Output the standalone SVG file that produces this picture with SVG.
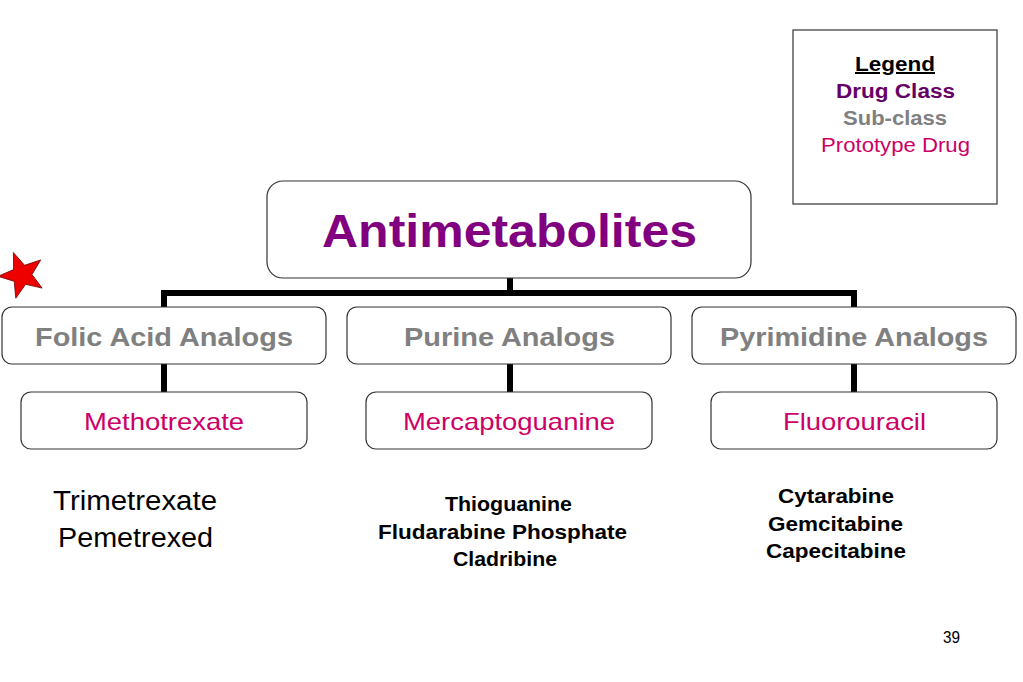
<svg xmlns="http://www.w3.org/2000/svg" width="1023" height="682" viewBox="0 0 1023 682">
<style>
.box{fill:#fff;stroke:#333;stroke-width:1.2}
.conn{stroke:#000;stroke-width:6;fill:none}
.t{font-family:"Liberation Sans",Arial,sans-serif;text-anchor:middle}
.cls{font-size:26px;font-weight:bold;fill:#808080}
.proto{font-size:24px;fill:#CC0066}
.list{font-size:20px;font-weight:bold;fill:#000}
</style>
<rect width="1023" height="682" fill="#fff"/>
<g id="connectors">
<path class="conn" d="M510 278V295M164 307V293H854V307"/>
<path class="conn" d="M164 364V392M510 364V392M854 364V392"/>
</g>
<g id="legend">
<rect x="793" y="30" width="204" height="174" fill="#fff" stroke="#333" stroke-width="1.2"/>
<text class="t" x="895" y="71" font-size="20" font-weight="bold" text-decoration="underline" textLength="80" lengthAdjust="spacingAndGlyphs">Legend</text>
<text class="t" x="895.5" y="98" font-size="20" font-weight="bold" fill="#660066" textLength="119" lengthAdjust="spacingAndGlyphs">Drug Class</text>
<text class="t" x="895" y="125" font-size="20" font-weight="bold" fill="#808080" textLength="104" lengthAdjust="spacingAndGlyphs">Sub-class</text>
<text class="t" x="895.5" y="152" font-size="20" fill="#CC0066" textLength="149" lengthAdjust="spacingAndGlyphs">Prototype Drug</text>
</g>
<g id="star">
<polygon transform="translate(22,275)" fill="#EE0000" stroke="#600" stroke-width="0.8" points="-8.6,-22.4 2.6,-9.7 18.7,-15.1 10,-0.5 20.1,13.1 3.6,9.3 -6.2,23.2 -7.8,6.3 -24,1.3 -8.4,-5.4"/>
</g>
<g id="antimetabolites">
<rect class="box" x="267" y="181" width="484" height="97" rx="16"/>
<text class="t" x="509.5" y="247" font-size="46" font-weight="bold" fill="#800080" textLength="375" lengthAdjust="spacingAndGlyphs">Antimetabolites</text>
</g>
<g id="folic">
<rect class="box" x="2" y="307" width="324" height="57" rx="10"/>
<text class="t cls" x="164" y="346" textLength="258" lengthAdjust="spacingAndGlyphs">Folic Acid Analogs</text>
</g>
<g id="purine">
<rect class="box" x="347" y="307" width="324" height="57" rx="10"/>
<text class="t cls" x="509.5" y="346" textLength="211" lengthAdjust="spacingAndGlyphs">Purine Analogs</text>
</g>
<g id="pyrimidine">
<rect class="box" x="692" y="307" width="324" height="57" rx="10"/>
<text class="t cls" x="854" y="346" textLength="268" lengthAdjust="spacingAndGlyphs">Pyrimidine Analogs</text>
</g>
<g id="methotrexate">
<rect class="box" x="21" y="392" width="286" height="57" rx="10"/>
<text class="t proto" x="164" y="430" textLength="160" lengthAdjust="spacingAndGlyphs">Methotrexate</text>
</g>
<g id="mercaptoguanine">
<rect class="box" x="366" y="392" width="286" height="57" rx="10"/>
<text class="t proto" x="509" y="430" textLength="212" lengthAdjust="spacingAndGlyphs">Mercaptoguanine</text>
</g>
<g id="fluorouracil">
<rect class="box" x="711" y="392" width="286" height="57" rx="10"/>
<text class="t proto" x="854.5" y="430" textLength="143" lengthAdjust="spacingAndGlyphs">Fluorouracil</text>
</g>
<g id="folic-others">
<text class="t" x="135" y="510" font-size="27" textLength="164" lengthAdjust="spacingAndGlyphs">Trimetrexate</text>
<text class="t" x="135.5" y="547" font-size="27" textLength="155" lengthAdjust="spacingAndGlyphs">Pemetrexed</text>
</g>
<g id="purine-others">
<text class="t list" x="508.5" y="511" textLength="127" lengthAdjust="spacingAndGlyphs">Thioguanine</text>
<text class="t list" x="502.5" y="539" textLength="249" lengthAdjust="spacingAndGlyphs">Fludarabine Phosphate</text>
<text class="t list" x="505" y="566" textLength="104" lengthAdjust="spacingAndGlyphs">Cladribine</text>
</g>
<g id="pyrimidine-others">
<text class="t list" x="836" y="503" textLength="116" lengthAdjust="spacingAndGlyphs">Cytarabine</text>
<text class="t list" x="835.5" y="531" textLength="135" lengthAdjust="spacingAndGlyphs">Gemcitabine</text>
<text class="t list" x="836" y="558" textLength="140" lengthAdjust="spacingAndGlyphs">Capecitabine</text>
</g>
<text class="t" x="951.5" y="643" font-size="16" textLength="17" lengthAdjust="spacingAndGlyphs">39</text>
</svg>
